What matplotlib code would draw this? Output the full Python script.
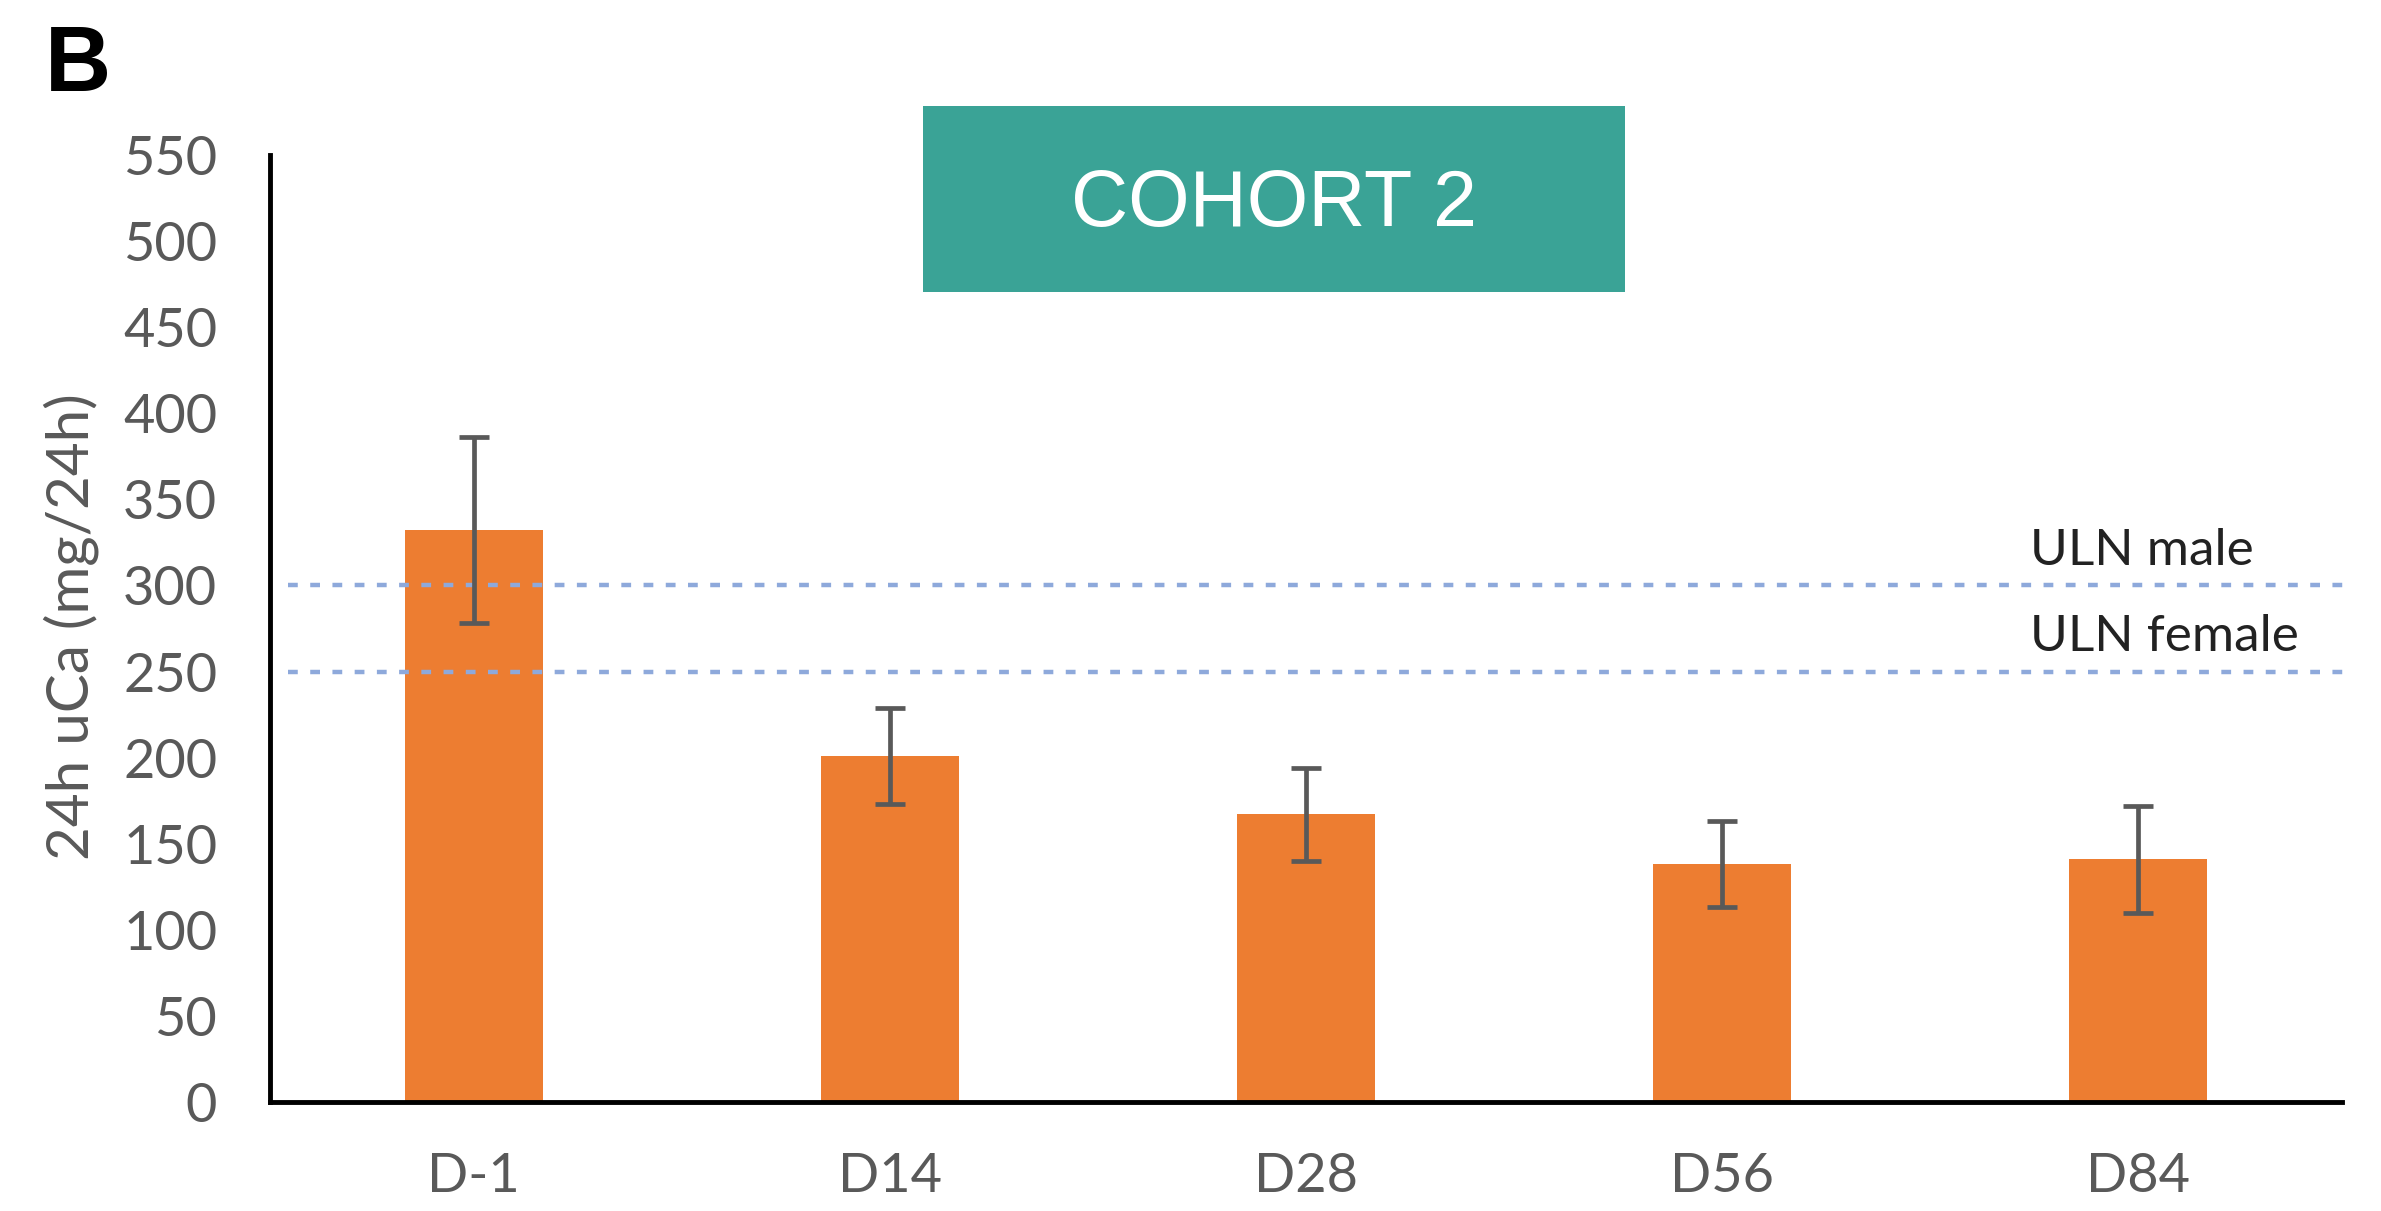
import matplotlib
matplotlib.use("Agg")
import matplotlib.pyplot as plt
from matplotlib.patches import Rectangle

categories = ["D-1", "D14", "D28", "D56", "D84"]
values = [332, 201, 167, 138, 141]
errors = [54, 28, 27, 25, 31]
uln_values = [300, 250]
uln_labels = ["ULN male", "ULN female"]
y_ticks = list(range(0, 551, 50))

W, H, DPI = 2381, 1211, 100
fig = plt.figure(figsize=(W / DPI, H / DPI), dpi=DPI, facecolor="white")
ax = fig.add_axes([270 / W, 1 - 1102 / H, (2342 - 270) / W, (1102 - 155) / H])

x = list(range(len(categories)))
ax.bar(x, values, width=0.33, color="#ED7D31", zorder=2)
ax.errorbar(x, values, yerr=errors, fmt="none", ecolor="#595959",
            elinewidth=3.4, capsize=10.5, capthick=3.4, zorder=4)

for v, lab in zip(uln_values, uln_labels):
    ax.plot([-0.447, 4.512], [v, v], linestyle=(0, (2.2, 2.8)), color="#8EA9DB",
            linewidth=3.2, zorder=3, clip_on=False)
    ax.text(3.741, v + 20, lab, fontsize=37, family="Lato", color="#222222",
            ha="left", va="center")

ax.set_xlim(-0.49, 4.49)
ax.set_ylim(0, 550)
ax.set_xticks(x)
ax.set_xticklabels(categories)
ax.set_yticks(y_ticks)
for side in ["top", "right"]:
    ax.spines[side].set_visible(False)
for side in ["left", "bottom"]:
    ax.spines[side].set_linewidth(3.5)
    ax.spines[side].set_color("black")
    ax.spines[side].set_zorder(5)
ax.tick_params(axis="both", length=0, labelsize=39, labelcolor="#595959")
ax.tick_params(axis="y", pad=38)
ax.tick_params(axis="x", pad=36)
for t in ax.get_xticklabels() + ax.get_yticklabels():
    t.set_family("Lato")

fig.text(71 / W, 1 - 627 / H, "24h uCa (mg/24h)", rotation=90, fontsize=42,
         family="Lato", color="#595959", ha="center", va="center")

fig.text(45 / W, 1 - 91 / H, "B", fontsize=66, fontweight="bold",
         family="Liberation Sans", color="black", ha="left", va="baseline")

fig.patches.append(Rectangle((923 / W, 1 - 292 / H), (1625 - 923) / W, (292 - 106) / H,
                             transform=fig.transFigure, facecolor="#3AA396",
                             edgecolor="none", zorder=5))
fig.text(1274 / W, 1 - 206 / H, "COHORT 2", fontsize=57, family="Liberation Sans",
         color="white", ha="center", va="center", zorder=6)

fig.savefig("out.png", dpi=DPI, facecolor="white")
